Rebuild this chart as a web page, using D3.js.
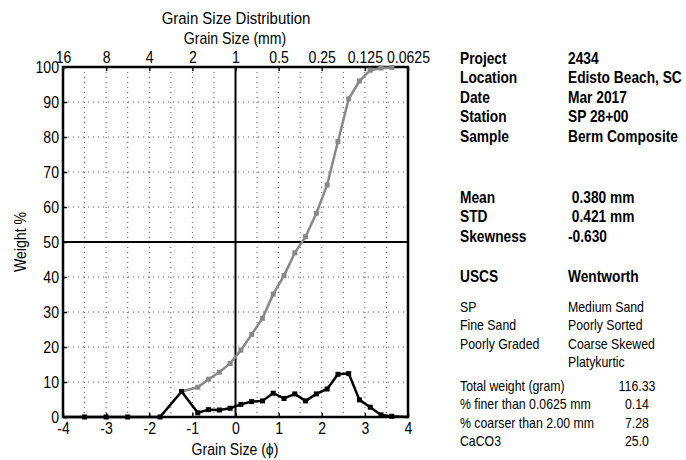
<!DOCTYPE html>
<html><head><meta charset="utf-8">
<script src="https://cdn.jsdelivr.net/npm/d3@7"></script>
<style>
html,body{margin:0;padding:0;background:#fff;}
svg{display:block;font-family:'Liberation Sans Narrow','Arial Narrow','Liberation Sans',Arial,sans-serif;}
text{white-space:pre;}
</style></head>
<body><svg id="c" width="686" height="460"></svg>
<script>
// ---- data ----
const phiTicks = [-4,-3,-2,-1,0,1,2,3,4];
const mmLabels = ["16","8","4","2","1","0.5","0.25","0.125","0.0625"];
const yTicks = [0,10,20,30,40,50,60,70,80,90,100];
const weightPhi = [-4,-3.5,-3,-2.5,-1.75,-1.25,-0.875,-0.625,-0.375,-0.125,0.125,0.375,0.625,0.875,1.125,1.375,1.625,1.875,2.125,2.375,2.625,2.875,3.125,3.375,3.625,4];
const weightPct = [0,0,0,0,0,7.28,1.2,2.1,2.0,2.5,3.6,4.4,4.6,6.8,5.3,6.6,4.6,6.6,8.0,12.2,12.4,4.9,2.8,0.6,0.2,0];
const cumPhi = [-1.25,-0.875,-0.625,-0.375,-0.125,0.125,0.375,0.625,0.875,1.125,1.375,1.625,1.875,2.125,2.375,2.625,2.875,3.125,3.375,3.625];
const cumPct = [7.28,8.5,10.8,12.8,15.3,19.1,23.6,28.2,35.1,40.4,46.9,51.5,58.2,66.3,78.7,90.9,96.0,99.1,99.7,99.86];
const infoLabels = ["Project","Location","Date","Station","Sample"];
const infoValues = ["2434","Edisto Beach, SC","Mar 2017","SP 28+00","Berm Composite"];
const statLabels = ["Mean","STD","Skewness"];
const statValues = [" 0.380 mm"," 0.421 mm","-0.630"];
const uscsLines = ["SP","Fine Sand","Poorly Graded"];
const wentworthLines = ["Medium Sand","Poorly Sorted","Coarse Skewed","Platykurtic"];
const totalLabels = ["Total weight (gram)","% finer than 0.0625 mm","% coarser than 2.00 mm","CaCO3"];
const totalValues = ["116.33","0.14","7.28","25.0"];

// ---- chart ----
const svg = d3.select("#c");
const L=63, R=408, T=67, B=417;
const x = d3.scaleLinear().domain([-4,4]).range([L,R]);
const y = d3.scaleLinear().domain([0,100]).range([B,T]);

// dotted grid
const grid = svg.append("g");
const halfPhi = d3.range(-3.5,4,0.5);
grid.selectAll("line.v").data(halfPhi).join("line")
  .attr("x1",d=>x(d)).attr("x2",d=>x(d)).attr("y1",T).attr("y2",B)
  .attr("stroke","#555").attr("stroke-width",1).attr("stroke-dasharray","1,4");
grid.selectAll("line.h").data(yTicks.slice(1,-1)).join("line")
  .attr("x1",L).attr("x2",R).attr("y1",d=>y(d)).attr("y2",d=>y(d))
  .attr("stroke","#555").attr("stroke-width",1).attr("stroke-dasharray","1,4");

// solid reference lines
svg.append("line").attr("x1",x(0)).attr("x2",x(0)).attr("y1",T).attr("y2",B).attr("stroke","#000").attr("stroke-width",2);
svg.append("line").attr("x1",L).attr("x2",R).attr("y1",y(50)).attr("y2",y(50)).attr("stroke","#000").attr("stroke-width",2);

// axes
const fs = 16;
const axB = svg.append("g").attr("transform",`translate(0,${B})`)
  .call(d3.axisBottom(x).tickValues(phiTicks).tickSizeInner(-4).tickSizeOuter(0).tickPadding(6).tickFormat(d=>String(d)));
const axT = svg.append("g").attr("transform",`translate(0,${T})`)
  .call(d3.axisTop(x).tickValues(phiTicks).tickSizeInner(-4).tickSizeOuter(0).tickPadding(4).tickFormat((d,i)=>mmLabels[i]));
const axL = svg.append("g").attr("transform",`translate(${L},0)`)
  .call(d3.axisLeft(y).tickValues(yTicks).tickSizeInner(-4).tickSizeOuter(0).tickPadding(4).tickFormat(d=>String(d)));
[axB,axT,axL].forEach(a=>{
  a.select(".domain").remove();
  a.selectAll(".tick line").attr("stroke","#000").attr("stroke-width",1.5);
  a.selectAll("text").attr("font-size",fs).attr("font-family",null).attr("fill","#000");
});

// frame
svg.append("rect").attr("x",L).attr("y",T).attr("width",R-L).attr("height",B-T)
  .attr("fill","none").attr("stroke","#000").attr("stroke-width",2.5);

// cumulative (gray)
const line = d3.line().x(d=>x(d[0])).y(d=>y(d[1]));
const cum = cumPhi.map((p,i)=>[p,cumPct[i]]);
svg.append("path").datum(cum).attr("d",line).attr("fill","none").attr("stroke","#888").attr("stroke-width",2.5);
svg.selectAll("rect.cm").data(cum).join("rect").attr("class","cm")
  .attr("x",d=>x(d[0])-2.5).attr("y",d=>y(d[1])-2.5).attr("width",5).attr("height",5).attr("fill","#888");

// individual weight (black)
const wt = weightPhi.map((p,i)=>[p,weightPct[i]]);
svg.append("path").datum(wt).attr("d",line).attr("fill","none").attr("stroke","#000").attr("stroke-width",2.5).attr("stroke-linejoin","miter");
svg.selectAll("rect.wm").data(wt.slice(1,-1)).join("rect").attr("class","wm")
  .attr("x",d=>x(d[0])-2.5).attr("y",d=>y(d[1])-2.5).attr("width",5).attr("height",5).attr("fill","#000");

// titles
svg.append("text").attr("x",236).attr("y",24).attr("text-anchor","middle").attr("font-size",17).text("Grain Size Distribution");
svg.append("text").attr("x",235).attr("y",44).attr("text-anchor","middle").attr("font-size",16).text("Grain Size (mm)");
svg.append("text").attr("x",235).attr("y",455).attr("text-anchor","middle").attr("font-size",16).text("Grain Size (\u03D5)");
svg.append("text").attr("transform","translate(26,242) rotate(-90)").attr("text-anchor","middle").attr("font-size",16).text("Weight %");

// right panel
const col1 = 460, col2 = 568;
function block(labels, values, y0, dy, size, weight, anchor2, x2){
  labels.forEach((t,i)=>svg.append("text").attr("x",col1).attr("y",y0+i*dy).attr("font-size",size).attr("font-weight",weight).text(t));
  values.forEach((t,i)=>svg.append("text").attr("x",x2).attr("y",y0+i*dy).attr("font-size",size).attr("font-weight",weight).attr("text-anchor",anchor2).text(t));
}
block(infoLabels, infoValues, 64, 19.5, 16, "bold", "start", col2);
block(statLabels, statValues, 203, 19.5, 16, "bold", "start", col2);
block(["USCS"], ["Wentworth"], 282, 0, 16, "bold", "start", col2);
block(uscsLines, wentworthLines, 312, 18.5, 14, "normal", "start", col2);
block(totalLabels, totalValues, 391, 18.5, 14, "normal", "middle", 637);

// condense glyphs horizontally (narrow face look), scaling about each text's anchor
svg.selectAll("text").each(function(){
  const ax = +this.getAttribute("x") || 0;
  const t = this.getAttribute("transform") || "";
  const k = this.getAttribute("font-weight") === "bold" ? 0.86 : 0.88;
  this.setAttribute("transform", `${t} translate(${ax},0) scale(${k},1) translate(${-ax},0)`);
});
</script></body></html>
